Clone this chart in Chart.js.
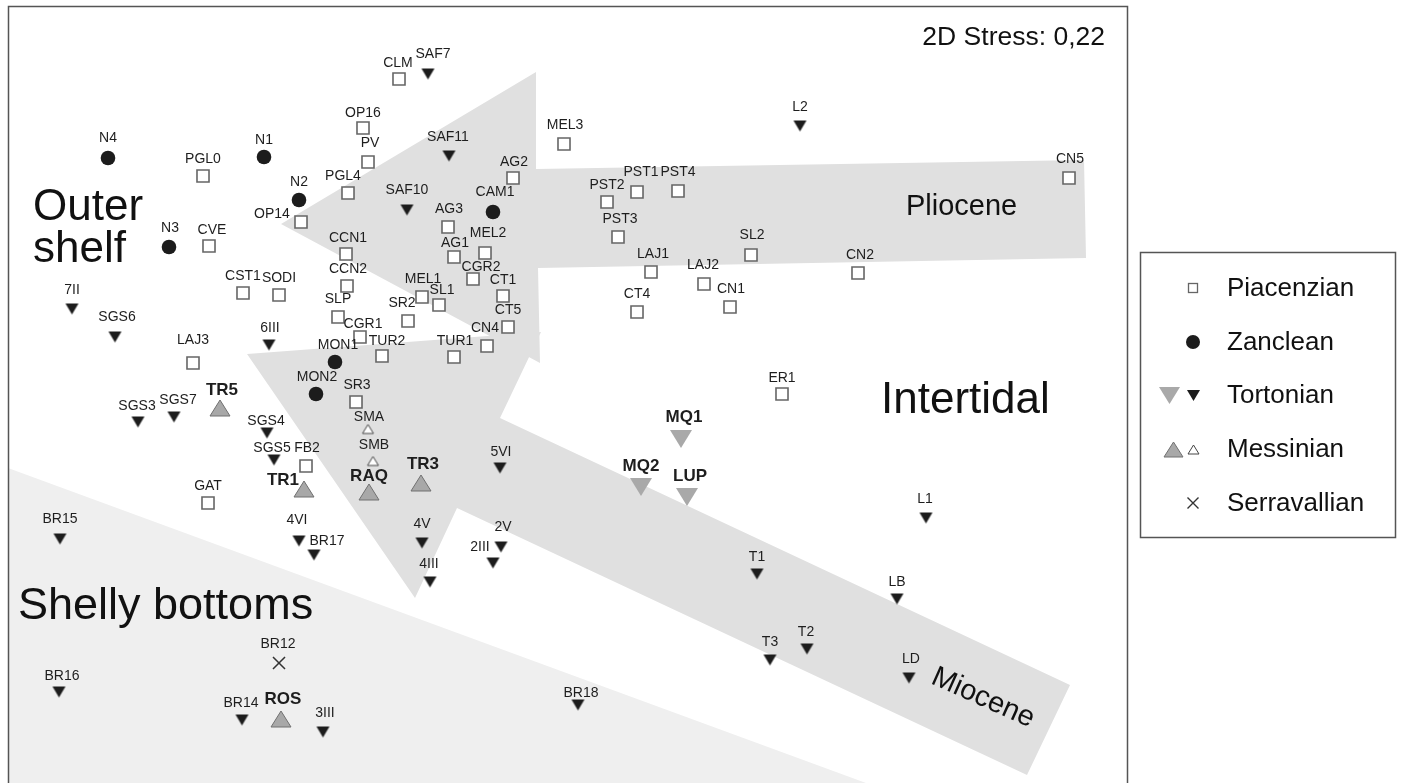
<!DOCTYPE html>
<html><head><meta charset="utf-8">
<script src="https://cdn.jsdelivr.net/npm/chart.js@4/dist/chart.umd.min.js"></script>
<style>html,body{margin:0;padding:0;background:#fff;overflow:hidden}#wrap{width:1402px;height:783px}</style>
</head><body><div id="wrap"><canvas id="c" width="1402" height="783"></canvas></div>
<script>
// ---- Data (NMDS ordination coordinates; y axis pointing down) ----
const piacNames = ['CLM','OP16','MEL3','PGL0','PV','AG2','PST1','PST4','PST2','CN5','PGL4','OP14','AG3','PST3','CVE','CCN1','MEL2','AG1','CGR2','LAJ1','SL2','CN2','CCN2','CST1','SODI','MEL1','SL1','CT1','LAJ2','CN1','SLP','SR2','CT4','CT5','CGR1','CN4','LAJ3','TUR2','TUR1','SR3','ER1','FB2','GAT'];
const piacX = [399,363,564,203,368,513,637,678,607,1069,348,301,448,618,209,346,485,454,473,651,751,858,347,243,279,422,439,503,704,730,338,408,637,508,360,487,193,382,454,356,782,306,208];
const piacY = [79,128,144,176,162,178,192,191,202,178,193,222,227,237,246,254,253,257,279,272,255,273,286,293,295,297,305,296,284,307,317,321,312,327,337,346,363,356,357,402,394,466,503];

const zancNames = ['N4','N1','N2','CAM1','N3','MON1','MON2'];
const zancX = [108,264,299,493,169,335,316];
const zancY = [158,157,200,212,247,362,394];

const tortNames = ['SAF7','L2','SAF11','SAF10','7II','SGS6','6III','SGS3','SGS7','SGS4','5VI','SGS5','BR15','4VI','BR17','4V','2V','2III','L1','4III','T1','LB','T3','T2','LD','BR16','BR18','BR14','3III'];
const tortX = [428,800,449,407,72,115,269,138,174,267,500,274,60,299,314,422,501,493,926,430,757,897,770,807,909,59,578,242,323];
const tortY = [74,126,156,210,309,337,345,422,417,433,468,460,539,541,555,543,547,563,518,582,574,599,660,649,678,692,705,720,732];

const tortBigNames = ['MQ1','MQ2','LUP'];
const tortBigX = [681,641,687];
const tortBigY = [439,487,497];

const messBigNames = ['TR5','TR1','RAQ','TR3','ROS'];
const messBigX = [220,304,369,421,281];
const messBigY = [408,489,492,483,719];

const messSmallNames = ['SMA','SMB'];
const messSmallX = [368,373];
const messSmallY = [429,461];

const serrNames = ['BR12'];
const serrX = [279];
const serrY = [663];

// Interpretive shaded areas (vertices)
const pliocArrowX = [281,536,536,1084,1086,538,540];
const pliocArrowY = [224,72,169,160,258,268,363];
const mioArrowX = [247,541,500,1070,1027,457,415];
const mioArrowY = [354,332,418,685,775,508,598];
const shellyX = [8,866,8];
const shellyY = [468,783,783];

const legendNames = ['Piacenzian','Zanclean','Tortonian','Messinian','Serravallian'];
const stressText = '2D Stress: 0,22';

// ---- label placement (offset of each sample label from its marker) ----
const labelOffset = {
 N4:[0,-20],N1:[0,-17],PGL0:[0,-17],OP14:[-29,-8],PGL4:[-5,-17],PV:[2,-19],OP16:[0,-15],N3:[1,-19],CVE:[3,-16],CCN1:[2,-16],
 CLM:[-1,-16],SAF7:[5,-20],MEL3:[1,-19],SAF11:[-1,-19],AG2:[1,-16],SAF10:[0,-20],CAM1:[2,-20],AG3:[1,-18],MEL2:[3,-20],AG1:[1,-14],
 CGR2:[8,-12],PST1:[4,-20],PST4:[0,-19],PST2:[0,-17],PST3:[2,-18],LAJ1:[2,-18],LAJ2:[-1,-19],SL2:[1,-20],CN2:[2,-18],L2:[0,-19],
 CN5:[1,-19],CCN2:[1,-17],CST1:[0,-17],SODI:[0,-17],MEL1:[1,-18],SL1:[3,-15],CT1:[0,-16],CN1:[1,-18],'7II':[0,-19],SGS6:[2,-20],
 SLP:[0,-18],SR2:[-6,-18],CT4:[0,-18],CT5:[0,-17],CGR1:[3,-13],CN4:[-2,-18],'6III':[1,-17],LAJ3:[0,-23],MON1:[3,-17],TUR2:[5,-15],
 TUR1:[1,-16],MON2:[1,-17],SR3:[1,-17],ER1:[0,-16],TR5:[2,-18],SGS3:[-1,-16],SGS7:[4,-17],SMA:[1,-12],MQ1:[3,-22],SGS4:[-1,-12],
 SMB:[1,-16],'5VI':[1,-16],SGS5:[-2,-12],FB2:[1,-18],TR1:[-21,-9],RAQ:[0,-16],TR3:[2,-19],MQ2:[0,-21],LUP:[3,-21],GAT:[0,-17],
 BR15:[0,-20],'4VI':[-2,-21],BR17:[13,-14],'4V':[0,-19],'2V':[2,-20],'2III':[-13,-16],L1:[-1,-19],'4III':[-1,-18],T1:[0,-17],LB:[0,-17],
 BR12:[-1,-19],T3:[0,-18],T2:[-1,-17],LD:[2,-19],BR16:[3,-16],BR18:[3,-12],BR14:[-1,-17],ROS:[2,-20],'3III':[2,-19]
};

const FONT = '"Liberation Sans", Arial, Helvetica, sans-serif';

function triImg(w, h, down, fill, stroke, lw) {
  const s = Math.ceil(Math.max(w, h)) + 4;
  const c = document.createElement('canvas'); c.width = s; c.height = s;
  const g = c.getContext('2d');
  const cx = s / 2, cy = s / 2;
  g.beginPath();
  if (down) { g.moveTo(cx - w/2, cy - h/2); g.lineTo(cx + w/2, cy - h/2); g.lineTo(cx, cy + h/2); }
  else { g.moveTo(cx - w/2, cy + h/2); g.lineTo(cx + w/2, cy + h/2); g.lineTo(cx, cy - h/2); }
  g.closePath(); g.fillStyle = fill; g.fill();
  if (stroke) { g.lineWidth = lw; g.strokeStyle = stroke; g.lineJoin = 'miter'; g.stroke(); }
  return c;
}
const imgTortSmall = triImg(13, 11, true, '#1c1c1c');
const imgTortBig = triImg(22, 18, true, '#a9a9a9');
const imgMessBig = triImg(20, 16, false, '#a8a8a8', '#707070', 1);
const imgMessSmall = triImg(11, 9, false, '#ffffff', '#444444', 1);
const imgLegTortBig = triImg(21, 17, true, '#a9a9a9');
const imgLegTortSmall = triImg(13, 11, true, '#1c1c1c');
const imgLegMessBig = triImg(19, 15, false, '#a8a8a8', '#707070', 1);
const imgLegMessSmall = triImg(11, 9, false, '#ffffff', '#444444', 1);

const pts = (X, Y) => X.map((x, i) => ({x, y: Y[i]}));

function pointSet(names, X, Y, extra) {
  return Object.assign({type: 'scatter', data: pts(X, Y), labels: names, order: 1}, extra);
}
function polySet(X, Y, color) {
  return {type: 'scatter', data: pts(X, Y), showLine: true, fill: 'shape', backgroundColor: color,
    borderColor: 'rgba(0,0,0,0)', borderWidth: 0, pointRadius: 0, pointHoverRadius: 0, order: 10, isPoly: true};
}

const labelPlugin = {
  id: 'sampleLabels',
  afterDatasetsDraw(chart) {
    const ctx = chart.ctx;
    ctx.save();
    ctx.textAlign = 'center'; ctx.textBaseline = 'middle'; ctx.fillStyle = '#1e1e1e';
    chart.data.datasets.forEach((ds, i) => {
      if (!ds.labels) return;
      ctx.font = ds.boldLabels ? 'bold 17px ' + FONT : '14px ' + FONT;
      chart.getDatasetMeta(i).data.forEach((el, j) => {
        const n = ds.labels[j];
        const o = labelOffset[n] || [0, -18];
        ctx.fillText(n, el.x + o[0], el.y + o[1]);
      });
    });
    ctx.restore();
  }
};

const textPlugin = {
  id: 'regionText',
  beforeDatasetsDraw(chart) {
    const ctx = chart.ctx;
    ctx.save();
    ctx.fillStyle = '#111'; ctx.textBaseline = 'alphabetic'; ctx.textAlign = 'left';
    ctx.font = '44px ' + FONT;
    ctx.fillText('Outer', 33, 220);
    ctx.fillText('shelf', 33, 262);
    ctx.fillText('Intertidal', 881, 413);
    ctx.font = '45px ' + FONT;
    ctx.fillText('Shelly bottoms', 18, 619);
    ctx.font = '29px ' + FONT;
    ctx.fillText('Pliocene', 906, 215);
    ctx.save();
    ctx.translate(983, 698); ctx.rotate(24 * Math.PI / 180);
    ctx.textAlign = 'center'; ctx.textBaseline = 'middle';
    ctx.fillText('Miocene', 0, 0);
    ctx.restore();
    ctx.font = '26.5px ' + FONT; ctx.textAlign = 'right';
    ctx.fillText(stressText, 1105, 45);
    ctx.restore();
  }
};

const framePlugin = {
  id: 'frameLegend',
  afterDraw(chart) {
    const ctx = chart.ctx, a = chart.chartArea;
    ctx.save();
    ctx.strokeStyle = '#555'; ctx.lineWidth = 1.5;
    ctx.beginPath();
    ctx.moveTo(a.left + 0.5, a.bottom + 2); ctx.lineTo(a.left + 0.5, a.top + 0.5);
    ctx.lineTo(a.right - 0.5, a.top + 0.5); ctx.lineTo(a.right - 0.5, a.bottom + 2);
    ctx.stroke();
    // legend box
    const L = 1140.5, T = 252.5, R = 1395.5, B = 537.5;
    ctx.strokeRect(L, T, R - L, B - T);
    const rows = [288, 342, 395, 449, 503];
    const mx = 1193;
    ctx.fillStyle = '#fff'; ctx.strokeStyle = '#666'; ctx.lineWidth = 1.3;
    ctx.fillRect(mx - 4.5, rows[0] - 4.5, 9, 9); ctx.strokeRect(mx - 4.5, rows[0] - 4.5, 9, 9);
    ctx.fillStyle = '#1c1c1c'; ctx.beginPath(); ctx.arc(mx, rows[1], 7, 0, Math.PI * 2); ctx.fill();
    const di = (img, x, y) => ctx.drawImage(img, Math.round(x - img.width / 2), Math.round(y - img.height / 2));
    di(imgLegTortBig, 1169, rows[2]); di(imgLegTortSmall, mx, rows[2]);
    di(imgLegMessBig, 1173, rows[3]); di(imgLegMessSmall, mx, rows[3]);
    ctx.strokeStyle = '#333'; ctx.lineWidth = 1.4;
    ctx.beginPath(); ctx.moveTo(mx - 5.5, rows[4] - 5.5); ctx.lineTo(mx + 5.5, rows[4] + 5.5);
    ctx.moveTo(mx + 5.5, rows[4] - 5.5); ctx.lineTo(mx - 5.5, rows[4] + 5.5); ctx.stroke();
    ctx.fillStyle = '#111'; ctx.font = '26px ' + FONT; ctx.textAlign = 'left'; ctx.textBaseline = 'middle';
    legendNames.forEach((t, i) => ctx.fillText(t, 1227, rows[i] + 1));
    ctx.restore();
  }
};

new Chart(document.getElementById('c'), {
  type: 'scatter',
  data: {
    datasets: [
      polySet(shellyX, shellyY, '#efefef'),
      polySet(pliocArrowX, pliocArrowY, '#e0e0e0'),
      polySet(mioArrowX, mioArrowY, '#e0e0e0'),
      pointSet(piacNames, piacX, piacY, {label: 'Piacenzian', pointStyle: 'rect', pointRadius: 8.5, backgroundColor: '#ffffff', borderColor: '#666666', borderWidth: 1.6}),
      pointSet(zancNames, zancX, zancY, {label: 'Zanclean', pointStyle: 'circle', pointRadius: 7.3, backgroundColor: '#1c1c1c', borderColor: '#1c1c1c', borderWidth: 0}),
      pointSet(tortNames, tortX, tortY, {label: 'Tortonian', pointStyle: imgTortSmall, pointRadius: 8}),
      pointSet(tortBigNames, tortBigX, tortBigY, {label: 'Tortonian', pointStyle: imgTortBig, pointRadius: 12, boldLabels: true}),
      pointSet(messBigNames, messBigX, messBigY, {label: 'Messinian', pointStyle: imgMessBig, pointRadius: 11, boldLabels: true}),
      pointSet(messSmallNames, messSmallX, messSmallY, {label: 'Messinian', pointStyle: imgMessSmall, pointRadius: 6}),
      pointSet(serrNames, serrX, serrY, {label: 'Serravallian', pointStyle: 'crossRot', pointRadius: 8.5, borderColor: '#333333', borderWidth: 1.5, backgroundColor: '#333333'})
    ]
  },
  options: {
    responsive: false, animation: false, devicePixelRatio: 1,
    layout: {autoPadding: false, padding: {left: 8, top: 6, right: 274, bottom: 0}},
    scales: {
      x: {type: 'linear', min: 8, max: 1128, display: false},
      y: {type: 'linear', min: 6, max: 783, reverse: true, display: false}
    },
    plugins: {legend: {display: false}, tooltip: {enabled: false}, filler: {drawTime: 'beforeDatasetsDraw', propagate: false}},
    events: []
  },
  plugins: [textPlugin, labelPlugin, framePlugin]
});
</script>
</body></html>
